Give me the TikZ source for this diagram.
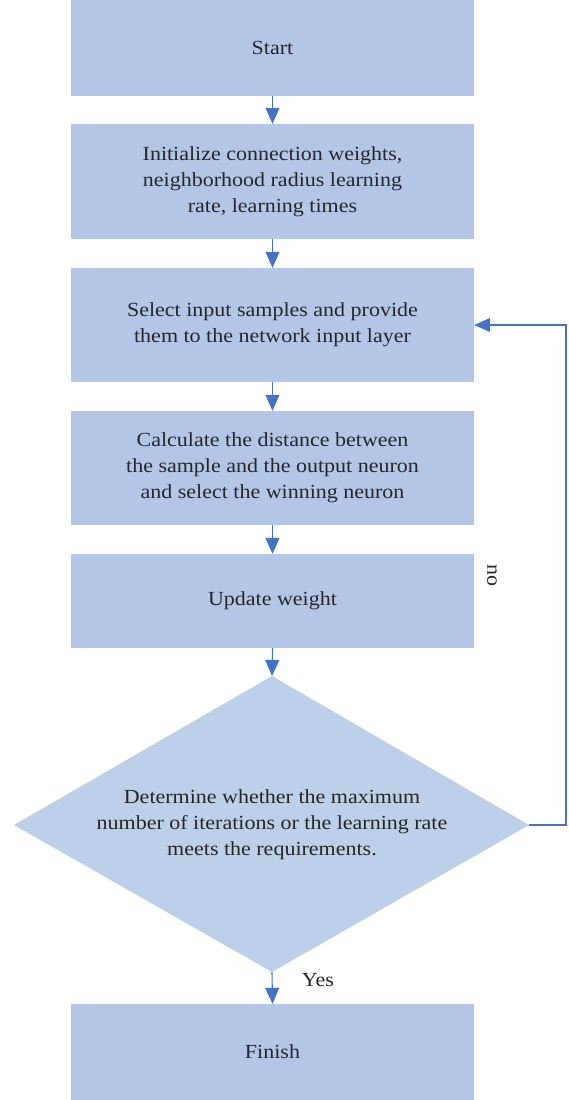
\documentclass[tikz,border=0pt]{standalone}
\usepackage{fontspec}
\setmainfont{Liberation Serif}[FakeStretch=1.1]
\usetikzlibrary{arrows.meta,shapes.geometric}
\definecolor{boxblue}{HTML}{B4C6E7}
\definecolor{diablue}{HTML}{BDD0E9}
\definecolor{arrblue}{HTML}{4472C4}
\tikzset{
  stepbox/.style={fill=boxblue,draw=none,minimum width=403pt,inner sep=0pt,align=center,font=\fontsize{20}{26}\selectfont,text=black!85},
  flow/.style={draw=arrblue,line width=1.1pt,-{Triangle[width=14pt,length=16pt]}},
  lbl/.style={font=\fontsize{20}{22}\selectfont,text=black!85}
}
\begin{document}
\begin{tikzpicture}[x=1pt,y=-1pt]
\useasboundingbox (0,0) rectangle (569,1100);
\node[stepbox,minimum height=96pt] (start) at (272.5,48) {Start};
\node[stepbox,minimum height=115pt] (init) at (272.5,181.5) {Initialize connection weights,\\neighborhood radius learning\\rate, learning times};
\node[stepbox,minimum height=114pt] (select) at (272.5,325) {Select input samples and provide\\them to the network input layer};
\node[stepbox,minimum height=114pt] (calc) at (272.5,468) {Calculate the distance between\\the sample and the output neuron\\and select the winning neuron};
\node[stepbox,minimum height=94pt] (update) at (272.5,601) {Update weight};
\fill[diablue] (272,676) coordinate (dtop) -- (529,825) coordinate (dright) -- (272,972) coordinate (dbot) -- (14,825) coordinate (dleft) -- cycle;
\node[lbl,align=center,font=\fontsize{20}{26}\selectfont] (decide) at (272,825) {Determine whether the maximum\\number of iterations or the learning rate\\meets the requirements.};
\node[stepbox,minimum height=96pt] (finish) at (272.5,1052) {Finish};
\draw[flow] (start.south) -- (init.north);
\draw[flow] (init.south) -- (select.north);
\draw[flow] (select.south) -- (calc.north);
\draw[flow] (calc.south) -- (update.north);
\draw[flow] (update.south) -- (dtop);
\draw[flow] (dbot) -- (finish.north);
\coordinate (c1) at (566,825);
\coordinate (c2) at (566,325);
\draw[flow] (dright) -- (c1) -- (c2) -- (select.east);
\node[lbl,rotate=-90] (no) at (492,575) {no};
\node[lbl] (yes) at (318,980) {Yes};
\end{tikzpicture}
\end{document}
